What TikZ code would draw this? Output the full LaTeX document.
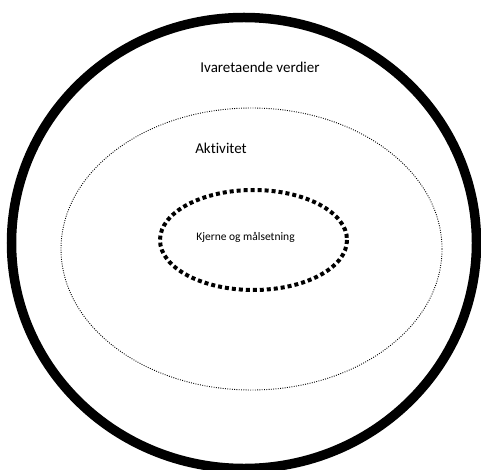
\documentclass[tikz,border=0pt]{standalone}
\usepackage{fontspec}
\setmainfont{Carlito}[Ligatures=NoCommon]
\begin{document}
\begin{tikzpicture}[x=1pt,y=-1pt,
  outerring/.style={draw=black,line width=9.5pt},
  midring/.style={draw=black,line width=0.9pt,dash pattern=on 0.9pt off 1.4pt},
  innerring/.style={draw=black,line width=4pt,dash pattern=on 4pt off 3pt},
  lbl/.style={inner sep=0pt,text=black}]
\useasboundingbox (0,0) rectangle (481,470);
\fill[white] (0,0) rectangle (481,470);
\draw[outerring] (244,243) ellipse [x radius=232.5, y radius=225.5];
\draw[midring] (251.5,249) ellipse [x radius=190.5, y radius=141];
\draw[innerring] (253.5,240) ellipse [x radius=93.5, y radius=50];
\node[lbl,font=\fontsize{15}{18}\selectfont] (ivar) at (260,67) {Ivaretaende verdier};
\node[lbl,font=\fontsize{15}{18}\selectfont] (akt) at (221,148) {Aktivitet};
\node[lbl,font=\fontsize{11.5}{14}\selectfont] (kj) at (245.5,237) {Kjerne og målsetning};
\end{tikzpicture}
\end{document}
